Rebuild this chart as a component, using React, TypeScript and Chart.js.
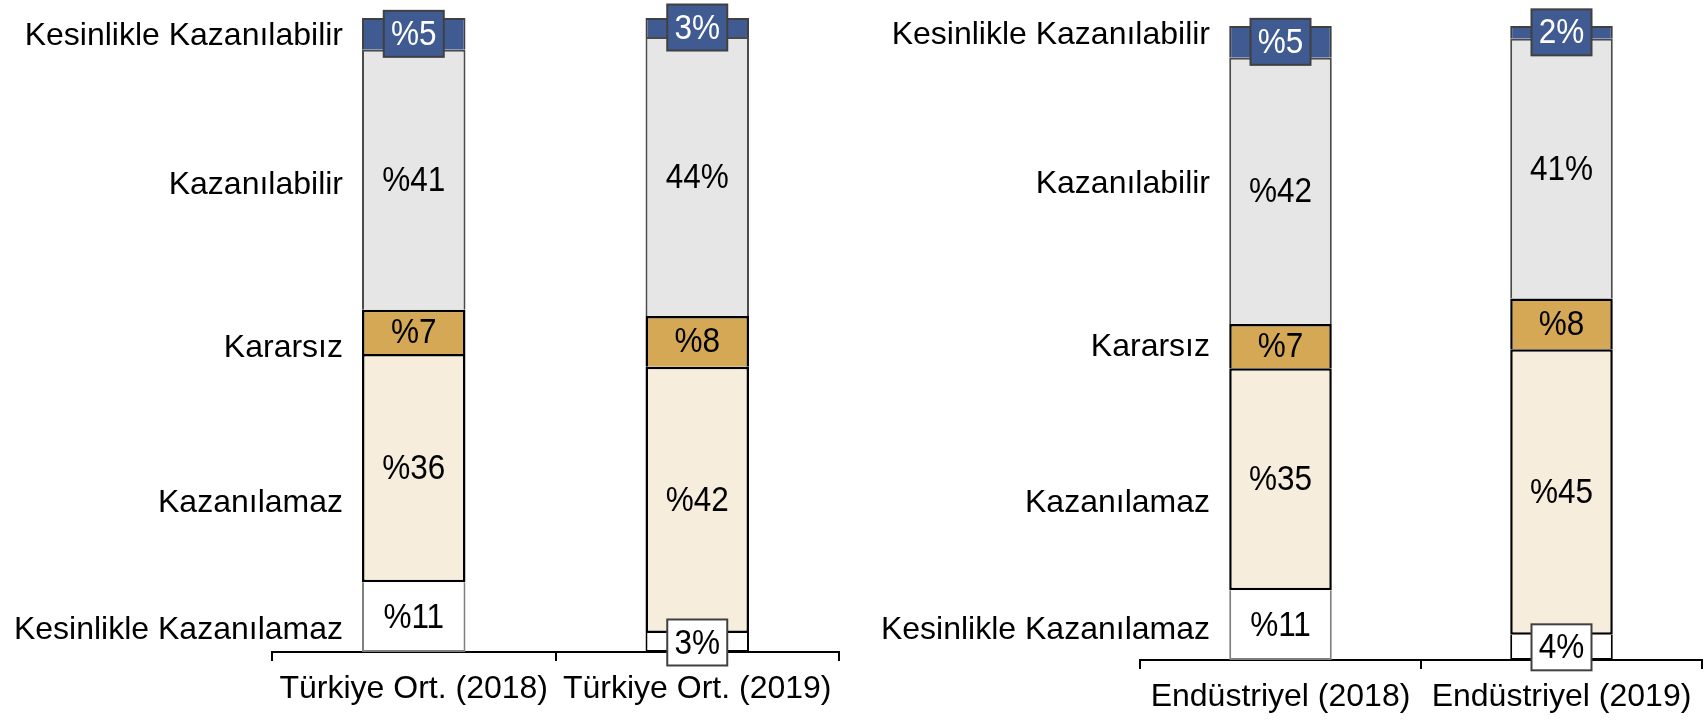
import React, { useEffect, useRef } from 'react';
import { Chart, registerables } from 'chart.js';

Chart.register(...registerables);

// ---- data ----
const segmentNames = [
  'Kesinlikle Kazanılamaz',
  'Kazanılamaz',
  'Kararsız',
  'Kazanılabilir',
  'Kesinlikle Kazanılabilir',
];

const turkiyeCategories = ['Türkiye Ort. (2018)', 'Türkiye Ort. (2019)'];
const endustriyelCategories = ['Endüstriyel (2018)', 'Endüstriyel (2019)'];

const turkiyeKesinlikleKazanilamaz = [11, 3];
const turkiyeKazanilamaz = [36, 42];
const turkiyeKararsiz = [7, 8];
const turkiyeKazanilabilir = [41, 44];
const turkiyeKesinlikleKazanilabilir = [5, 3];

const endustriyelKesinlikleKazanilamaz = [11, 4];
const endustriyelKazanilamaz = [35, 45];
const endustriyelKararsiz = [7, 8];
const endustriyelKazanilabilir = [42, 41];
const endustriyelKesinlikleKazanilabilir = [5, 2];

// whether the % sign is written before the number, [segment][bar]
const percentSignFirst = [
  [true, false],
  [true, true],
  [true, true],
  [true, false],
  [true, false],
];

// value-axis anchors of the row labels (bottom to top)
const turkiyeRowLabelValues = [3.4, 23.4, 48.0, 73.7, 97.2];
const endustriyelRowLabelValues = [4.7, 24.7, 49.3, 75.0, 98.5];

// ---- styles ----
const FONT = '"Liberation Sans", Arial, Helvetica, sans-serif';
const segmentFill = ['#FFFFFF', '#F6EDDD', '#D4A855', '#E6E6E6', '#3F5B91'];
const segmentBorder: any[] = [['#7F7F7F', '#000000'], '#000000', '#000000', '#4A4A4A', '#404040'];
const segmentBorderWidth = [2, 2.5, 2.5, 2, 2];
const segmentSkip: any[] = ['top', false, 'bottom', 'bottom', 'bottom'];
const segmentText = ['#000000', '#000000', '#000000', '#000000', '#FFFFFF'];
const BOX_LIMIT = 6;

const segmentLabelPlugin = {
  id: 'segmentLabels',
  afterDatasetsDraw(chart: any) {
    const ctx = chart.ctx;
    chart.data.datasets.forEach((ds: any, di: number) => {
      const meta = chart.getDatasetMeta(di);
      meta.data.forEach((el: any, bi: number) => {
        const v = ds.data[bi];
        const { x, y, base } = el.getProps(['x', 'y', 'base'], true);
        const cy = (y + base) / 2;
        const text = percentSignFirst[di][bi] ? `%${v}` : `${v}%`;
        ctx.save();
        if (v < BOX_LIMIT) {
          const w = 60;
          const h = 46;
          ctx.fillStyle = segmentFill[di];
          ctx.fillRect(x - w / 2, cy - h / 2, w, h);
          ctx.lineWidth = 2;
          ctx.strokeStyle = '#404040';
          ctx.strokeRect(x - w / 2, cy - h / 2, w, h);
        }
        ctx.translate(x, cy + 1.5);
        ctx.scale(0.9, 1);
        ctx.font = `35px ${FONT}`;
        ctx.textAlign = 'center';
        ctx.textBaseline = 'middle';
        ctx.fillStyle = segmentText[di];
        ctx.fillText(text, 0, 0);
        ctx.restore();
      });
    });
  },
};

const rowLabelPlugin = {
  id: 'rowLabels',
  afterDraw(chart: any) {
    const opts = chart.options.plugins.rowLabels;
    const ys = chart.scales.y;
    const ctx = chart.ctx;
    ctx.save();
    ctx.font = `32px ${FONT}`;
    ctx.fillStyle = '#000000';
    ctx.textAlign = 'right';
    ctx.textBaseline = 'middle';
    const xRight = chart.chartArea.left + opts.shift;
    opts.values.forEach((v: number, i: number) => {
      ctx.fillText(segmentNames[i], xRight, ys.getPixelForValue(v));
    });
    ctx.restore();
  },
};

function makeConfig(
  categories: string[],
  series: number[][],
  rowLabelValues: number[],
  geo: { padLeft: number; padRight: number; padTop: number; xHeight: number; labelShift: number }
): any {
  return {
    type: 'bar',
    data: {
      labels: categories,
      datasets: series.map((data, i) => ({
        label: segmentNames[i],
        data,
        backgroundColor: segmentFill[i],
        borderColor: segmentBorder[i],
        borderWidth: segmentBorderWidth[i],
        borderSkipped: segmentSkip[i],
        barPercentage: 0.365,
        categoryPercentage: 1,
      })),
    },
    options: {
      responsive: false,
      animation: false,
      layout: { padding: { left: geo.padLeft, right: geo.padRight, top: geo.padTop, bottom: 0 } },
      plugins: {
        legend: { display: false },
        tooltip: { enabled: false },
        rowLabels: { values: rowLabelValues, shift: geo.labelShift },
      },
      scales: {
        x: {
          stacked: true,
          border: { display: true, color: '#000000', width: 2 },
          grid: {
            display: true,
            drawOnChartArea: false,
            drawTicks: true,
            tickLength: 9,
            color: '#000000',
            lineWidth: 2,
            offset: true,
          },
          ticks: {
            color: '#000000',
            font: { family: FONT, size: 32 },
            padding: 9,
            maxRotation: 0,
            autoSkip: false,
          },
          afterFit: (s: any) => {
            s.height = geo.xHeight;
          },
        },
        y: {
          display: false,
          stacked: true,
          min: 0,
          max: 100,
        },
      },
    },
    plugins: [segmentLabelPlugin, rowLabelPlugin],
  };
}

export default function App() {
  const leftRef = useRef<HTMLCanvasElement>(null);
  const rightRef = useRef<HTMLCanvasElement>(null);

  useEffect(() => {
    const left = new Chart(
      leftRef.current as HTMLCanvasElement,
      makeConfig(
        turkiyeCategories,
        [
          turkiyeKesinlikleKazanilamaz,
          turkiyeKazanilamaz,
          turkiyeKararsiz,
          turkiyeKazanilabilir,
          turkiyeKesinlikleKazanilabilir,
        ],
        turkiyeRowLabelValues,
        { padLeft: 272, padRight: 15, padTop: 18, xHeight: 69, labelShift: 71 }
      )
    );
    const right = new Chart(
      rightRef.current as HTMLCanvasElement,
      makeConfig(
        endustriyelCategories,
        [
          endustriyelKesinlikleKazanilamaz,
          endustriyelKazanilamaz,
          endustriyelKararsiz,
          endustriyelKazanilabilir,
          endustriyelKesinlikleKazanilabilir,
        ],
        endustriyelRowLabelValues,
        { padLeft: 286, padRight: 6, padTop: 26, xHeight: 61, labelShift: 70 }
      )
    );
    return () => {
      left.destroy();
      right.destroy();
    };
  }, []);

  return (
    <div style={{ position: 'fixed', left: 0, top: 0, width: 1708, height: 721, background: '#FFFFFF' }}>
      <canvas
        ref={leftRef}
        width={854}
        height={721}
        style={{ position: 'absolute', left: 0, top: 0, width: 854, height: 721 }}
      />
      <canvas
        ref={rightRef}
        width={854}
        height={721}
        style={{ position: 'absolute', left: 854, top: 0, width: 854, height: 721 }}
      />
    </div>
  );
}
